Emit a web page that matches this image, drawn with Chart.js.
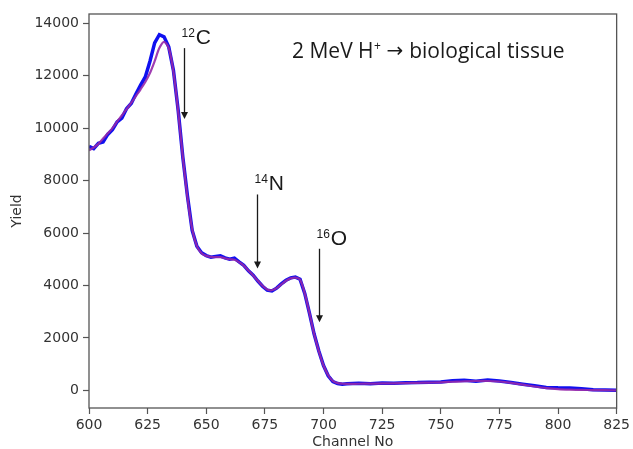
<!DOCTYPE html>
<html>
<head>
<meta charset="utf-8">
<script src="https://cdn.jsdelivr.net/npm/chart.js@4.4.1/dist/chart.umd.min.js"></script>
<style>
  html, body { margin: 0; padding: 0; background: #fff; }
  #wrap { width: 633px; height: 449px; }
</style>
</head>
<body>
<div id="wrap"><canvas id="myChart" width="633" height="449"></canvas></div>
<script>
// Данные спектра (каналы и выход)
const channels = [
  600, 602, 604, 606, 608, 610, 612, 614, 616, 618,
  620, 622, 624, 626, 628, 630, 632, 634, 636, 638,
  640, 642, 644, 646, 648, 650, 652, 654, 656, 658,
  660, 662, 664, 666, 668, 670, 672, 674, 676, 678,
  680, 682, 684, 686, 688, 690, 692, 694, 696, 698,
  700, 702, 704, 706, 708, 710, 715, 720, 725, 730,
  735, 740, 745, 750, 755, 760, 765, 770, 775, 780,
  785, 790, 795, 800, 805, 810, 815, 820, 825
];

const yieldMeasured = [
  9300, 9220, 9420, 9470, 9760, 9940, 10240, 10380, 10740, 10940,
  11300, 11640, 11950, 12550, 13250, 13560, 13480, 13100, 12200, 10700,
  8900, 7400, 6100, 5500, 5250, 5140, 5080, 5110, 5130, 5050,
  5000, 5040, 4900, 4770, 4560, 4390, 4170, 3970, 3820, 3790,
  3900, 4060, 4200, 4290, 4320, 4240, 3700, 2950, 2150, 1500,
  950, 560, 340, 260, 240, 250, 275, 250, 285, 270,
  295, 300, 315, 320, 365, 385, 350, 395, 355, 300,
  235, 175, 115, 100, 95, 65, 30, 15, 5
];

const yieldFit = [
  9150, 9260, 9400, 9600, 9800, 10000, 10250, 10480, 10720, 10960,
  11220, 11480, 11760, 12100, 12550, 13050, 13290, 13050, 12150, 10650,
  8900, 7350, 6150, 5500, 5230, 5130, 5090, 5080, 5080, 5040,
  5000, 4980, 4890, 4760, 4570, 4380, 4180, 3990, 3850, 3820,
  3900, 4040, 4180, 4270, 4300, 4220, 3700, 2950, 2150, 1500,
  950, 580, 360, 280, 255, 250, 255, 260, 265, 270,
  280, 290, 300, 310, 330, 350, 360, 360, 340, 290,
  220, 150, 90, 50, 30, 20, 12, 8, 5
];

const xTicks = [600, 625, 650, 675, 700, 725, 750, 775, 800, 825];
const yTicks = [0, 2000, 4000, 6000, 8000, 10000, 12000, 14000];

// Подписи пиков: элемент, массовое число, канал, начало и конец стрелки
const peakLabels = [
  { element: 'C', mass: '12', channel: 640.4, yFrom: 13050, yTo: 10350 },
  { element: 'N', mass: '14', channel: 671.6, yFrom: 7470, yTo: 4650 },
  { element: 'O', mass: '16', channel: 698.0, yFrom: 5400, yTo: 2600 }
];

const frameColor = '#555';
const tickFont = { family: 'DejaVu Sans', size: 14 };

// Рамка вокруг области графика
const framePlugin = {
  id: 'frame',
  afterDraw(chart) {
    const { ctx, chartArea: a } = chart;
    ctx.save();
    ctx.strokeStyle = frameColor;
    ctx.lineWidth = 1.3;
    ctx.strokeRect(a.left, a.top, a.right - a.left, a.bottom - a.top);
    ctx.restore();
  }
};

// Стрелки и подписи изотопов + заголовок реакции
const annotationPlugin = {
  id: 'peakAnnotations',
  afterDraw(chart) {
    const { ctx } = chart;
    const xs = chart.scales.x, ys = chart.scales.y;
    ctx.save();
    peakLabels.forEach(p => {
      const x = Math.round(xs.getPixelForValue(p.channel)) + 0.5;
      const y1 = ys.getPixelForValue(p.yFrom);
      const y2 = ys.getPixelForValue(p.yTo);
      ctx.strokeStyle = '#1a1a1a';
      ctx.fillStyle = '#1a1a1a';
      ctx.lineWidth = 1.3;
      ctx.beginPath();
      ctx.moveTo(x, y1);
      ctx.lineTo(x, y2 - 6);
      ctx.stroke();
      ctx.beginPath();
      ctx.moveTo(x - 3.5, y2 - 7);
      ctx.lineTo(x + 3.5, y2 - 7);
      ctx.lineTo(x, y2);
      ctx.closePath();
      ctx.fill();

      // подпись: верхний индекс + символ
      ctx.textBaseline = 'alphabetic';
      ctx.textAlign = 'left';
      ctx.font = '12px "Liberation Sans"';
      const mw = ctx.measureText(p.mass).width;
      const left = x - 3;
      ctx.fillText(p.mass, left, y1 - 11);
      ctx.font = '21px "Liberation Sans"';
      ctx.fillText(p.element, left + mw + 1, y1 - 4);
    });

    // заголовок реакции
    const tx = 292, ty = 58;
    ctx.fillStyle = '#1a1a1a';
    ctx.font = '21px "Open Sans"';
    const part1 = '2 MeV H';
    ctx.fillText(part1, tx, ty);
    let cx = tx + ctx.measureText(part1).width;
    ctx.font = '12px "Open Sans"';
    ctx.fillText('+', cx + 0.5, ty - 8);
    cx += ctx.measureText('+').width + 6;
    ctx.font = '20px "DejaVu Sans"';
    ctx.fillText('\u2192', cx, ty - 1);
    cx += ctx.measureText('\u2192').width + 6;
    ctx.font = '21px "Open Sans"';
    ctx.fillText('biological tissue', cx, ty);
    ctx.restore();
  }
};

const points = (ys) => channels.map((c, i) => ({ x: c, y: ys[i] }));

const ctx = document.getElementById('myChart').getContext('2d');
new Chart(ctx, {
  type: 'line',
  data: {
    datasets: [
      {
        label: 'Measured',
        data: points(yieldMeasured),
        borderColor: '#1010f0',
        borderWidth: 3.5,
        pointRadius: 0,
        tension: 0,
        order: 1
      },
      {
        label: 'Fit',
        data: points(yieldFit),
        borderColor: 'rgba(150, 40, 170, 0.9)',
        borderWidth: 2.2,
        pointRadius: 0,
        tension: 0.3,
        order: 0
      }
    ]
  },
  options: {
    responsive: false,
    animation: false,
    devicePixelRatio: 1,
    layout: { padding: { top: 14, right: 15, left: 0, bottom: 0 } },
    plugins: { legend: { display: false }, tooltip: { enabled: false }, title: { display: false } },
    scales: {
      x: {
        type: 'linear',
        min: 600,
        max: 825,
        afterFit(scale) { scale.height = 41; },
        afterBuildTicks(scale) { scale.ticks = xTicks.map(v => ({ value: v })); },
        grid: { drawOnChartArea: false, drawTicks: true, tickLength: 6, tickColor: frameColor, tickWidth: 1.2 },
        border: { display: false },
        ticks: { font: tickFont, color: '#333', padding: 3, maxRotation: 0, autoSkip: false, includeBounds: false, callback: v => String(v) },
        title: { display: true, text: 'Channel No', font: { family: 'DejaVu Sans', size: 14, lineHeight: 1 }, color: '#333', padding: { top: 0, bottom: 0 } }
      },
      y: {
        type: 'linear',
        min: -670,
        max: 14350,
        afterFit(scale) { scale.width = 89; },
        afterBuildTicks(scale) { scale.ticks = yTicks.map(v => ({ value: v })); },
        grid: { drawOnChartArea: false, drawTicks: true, tickLength: 6, tickColor: frameColor, tickWidth: 1.2 },
        border: { display: false },
        ticks: { font: tickFont, color: '#333', padding: 4, includeBounds: false, callback: v => String(v) },
        title: { display: true, text: 'Yield', font: { family: 'DejaVu Sans', size: 14, lineHeight: 1 }, color: '#333', padding: { top: 10, bottom: 0 } }
      }
    }
  },
  plugins: [framePlugin, annotationPlugin]
});
</script>
</body>
</html>
